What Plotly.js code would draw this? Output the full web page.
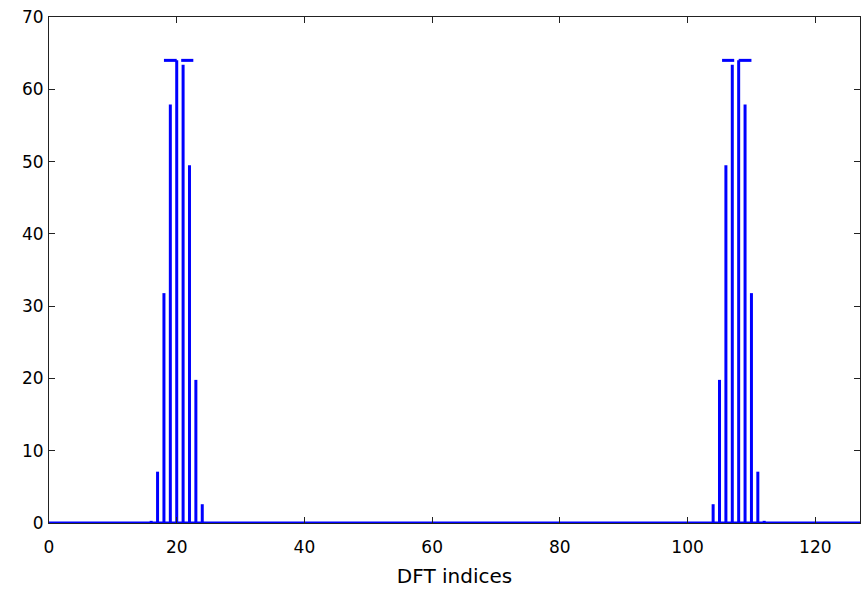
<!DOCTYPE html>
<html>
<head>
<meta charset="utf-8">
<script src="https://cdn.plot.ly/plotly-3.0.1.min.js"></script>
<style>
html,body{margin:0;padding:0;background:#fff;}
#chart{width:861px;height:592px;}
</style>
</head>
<body>
<div id="chart"></div>
<script>
// DFT indices 0..127
const dftIndex = Array.from({length: 128}, (_, i) => i);
// DFT magnitude (zero except near the two peaks)
const magnitude = [
  0,0,0,0,0,0,0,0,0,0,0,0,0,0,0,0,
  0.3,7.1,31.8,57.9,64.0,63.4,49.5,19.8,2.6,0,0,0,0,0,0,0,
  0,0,0,0,0,0,0,0,0,0,0,0,0,0,0,0,
  0,0,0,0,0,0,0,0,0,0,0,0,0,0,0,0,
  0,0,0,0,0,0,0,0,0,0,0,0,0,0,0,0,
  0,0,0,0,0,0,0,0,0,0,0,0,0,0,0,0,
  0,0,0,0,0,0,0,0,2.6,19.8,49.5,63.4,64.0,57.9,31.8,7.1,
  0.3,0,0,0,0,0,0,0,0,0,0,0,0,0,0,0
];
// short horizontal segments drawn at the top of the peaks
const capX = [18, 20, null, 20.7, 22.6, null, 105.4, 107.3, null, 108, 110];
const capY = [64, 64, null, 64, 64, null, 64, 64, null, 64, 64];
const xTicks = [0, 20, 40, 60, 80, 100, 120];
const yTicks = [0, 10, 20, 30, 40, 50, 60, 70];
const xLabel = 'DFT indices';

// stems: vertical segments from 0 up to each magnitude
const stemX = [], stemY = [];
dftIndex.forEach((k, i) => {
  if (magnitude[i] !== 0) {
    stemX.push(k, k, null);
    stemY.push(0, magnitude[i], null);
  }
});

const blue = '#0000ff';
const traces = [
  {x: dftIndex, y: dftIndex.map(() => 0), type: 'scatter', mode: 'lines',
   line: {color: blue, width: 3}, hoverinfo: 'skip'},
  {x: stemX, y: stemY, type: 'scatter', mode: 'lines',
   line: {color: blue, width: 3}, connectgaps: false},
  {x: capX, y: capY, type: 'scatter', mode: 'lines',
   line: {color: blue, width: 3}, connectgaps: false}
];

const axisCommon = {
  showgrid: false, zeroline: false, showline: true, linecolor: '#222', linewidth: 1,
  mirror: 'ticks', ticks: 'inside', ticklen: 6, tickcolor: '#222', tickwidth: 1,
  tickfont: {family: 'DejaVu Sans', size: 17, color: '#000'}
};

const layout = {
  width: 861, height: 592,
  margin: {l: 49, r: 1, t: 17, b: 69},
  paper_bgcolor: '#fff', plot_bgcolor: '#fff',
  showlegend: false,
  xaxis: Object.assign({}, axisCommon, {
    range: [0, 127], tickvals: xTicks, ticktext: xTicks.map(String),
    ticklabelstandoff: 9,
    title: {text: xLabel, font: {family: 'DejaVu Sans', size: 20, color: '#000'}, standoff: 12}
  }),
  yaxis: Object.assign({}, axisCommon, {
    range: [0, 70], tickvals: yTicks, ticktext: yTicks.map(String), ticklabelstandoff: 1
  })
};

Plotly.newPlot('chart', traces, layout, {staticPlot: true, displayModeBar: false});
</script>
</body>
</html>
